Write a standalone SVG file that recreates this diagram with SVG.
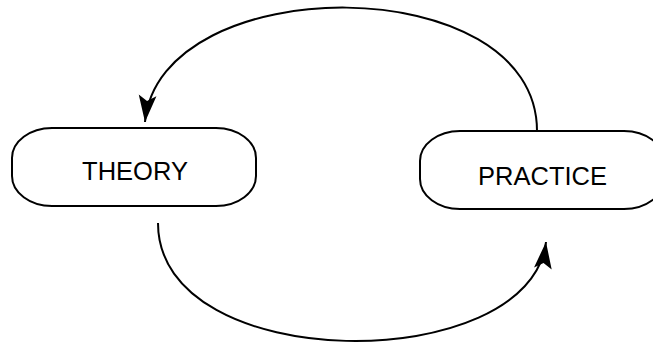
<svg xmlns="http://www.w3.org/2000/svg" width="653" height="345" viewBox="0 0 653 345">
<style>
.box{fill:#fff;stroke:#000;stroke-width:2}
.lbl{font-family:"Liberation Sans",Arial,sans-serif;font-size:25.5px;fill:#000;text-anchor:middle}
.edge{fill:none;stroke:#000;stroke-width:2;marker-end:url(#arr)}
</style>
<defs>
<marker id="arr" markerUnits="userSpaceOnUse" markerWidth="30" markerHeight="20" viewBox="0 -9 26 18" refX="24" refY="0" orient="auto">
<path d="M0,-8 L24,0 L0,8 L5,0 Z" fill="#000"/>
</marker>
</defs>
<rect width="653" height="345" fill="#fff"/>
<g id="connectors">
<path class="edge" d="M537,131 C537,-32 160,-32 145,122"/>
<path class="edge" d="M158,223 C158,377 530,377 546,242"/>
</g>
<g id="theory">
<rect class="box" x="12" y="128" width="244" height="78" rx="40" ry="30"/>
<text class="lbl" x="135" y="179.5">THEORY</text>
</g>
<g id="practice">
<rect class="box" x="420" y="131" width="244" height="78" rx="40" ry="30"/>
<text class="lbl" x="542.5" y="185">PRACTICE</text>
</g>
</svg>
